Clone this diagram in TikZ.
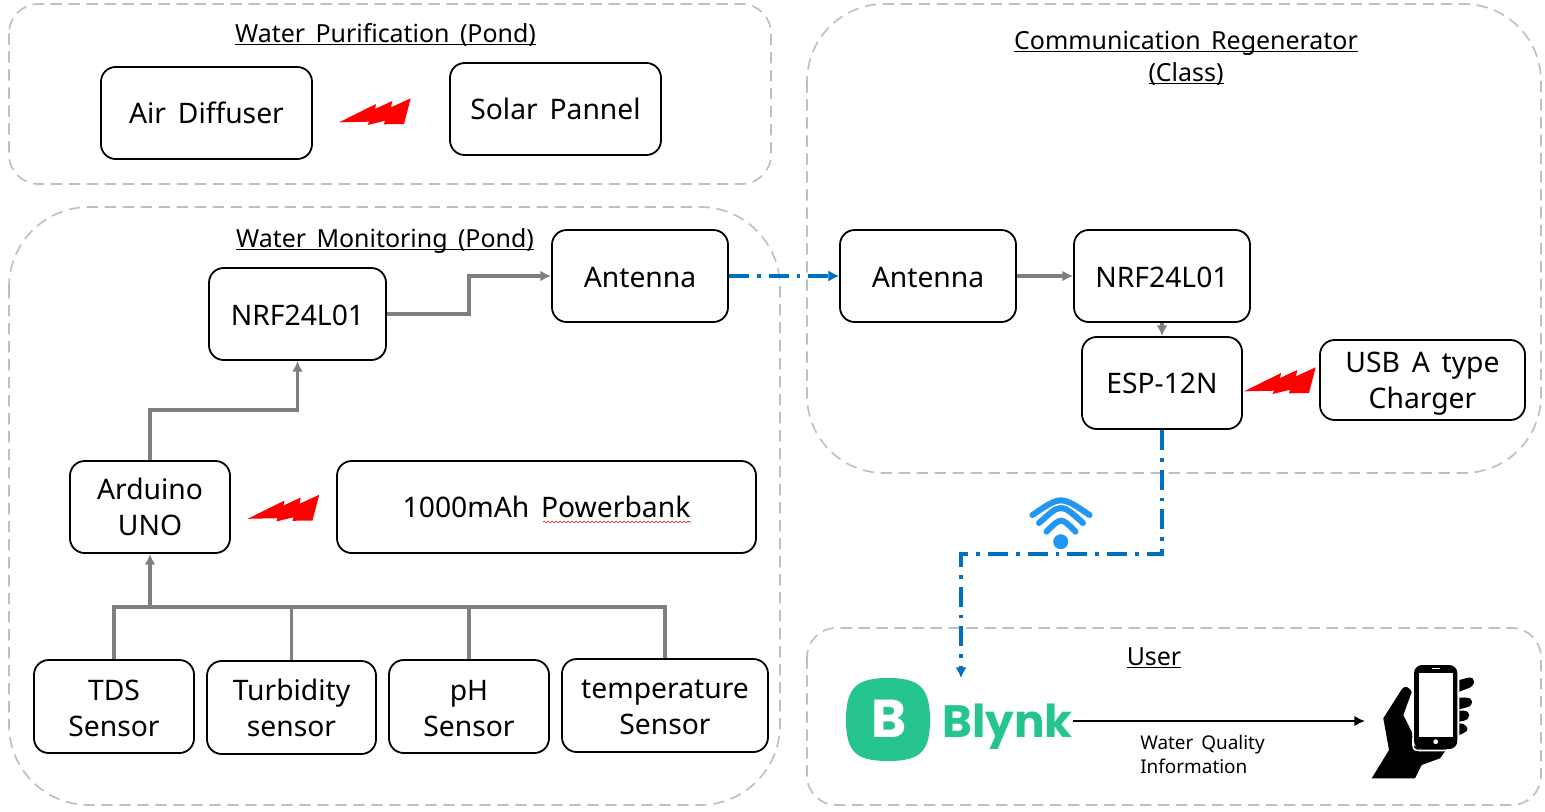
\documentclass[tikz,border=0pt]{standalone}
\usepackage{fontspec}
\setmainfont{Noto Sans}[WordSpace=1.6]
\newfontfamily\logofont{Poppins}
\usetikzlibrary{arrows.meta,decorations.pathmorphing}
\definecolor{regiongray}{HTML}{BFBFBF}
\definecolor{wiregray}{HTML}{7F7F7F}
\definecolor{linkblue}{HTML}{0070C0}
\definecolor{wifiblue}{HTML}{2196F3}
\definecolor{blynkgreen}{HTML}{27C58E}
\tikzset{
  bx/.style 2 args={draw=black,line width=1.35pt,rounded corners=11pt,fill=white,align=center,inner sep=0pt,
    minimum width=#1*0.75pt,minimum height=#2*0.75pt,font=\fontsize{21.2}{27}\selectfont},
  region/.style={draw=regiongray,line width=1.25pt,dash pattern=on 8.5pt off 5pt},
  titlelabel/.style={font=\fontsize{18.7}{24}\selectfont,anchor=base,inner sep=0pt},
  wire/.style={draw=wiregray,line width=2.4pt},
  wirearrow/.style={wire,-{Latex[length=8pt,width=8pt]}},
  busline/.style={draw=wiregray,line width=3pt},
  link/.style={draw=linkblue,line width=2.4pt,dash pattern=on 15pt off 6pt on 2.8pt off 6pt,-{Latex[length=8pt,width=8.5pt]}},
  boltfill/.style={fill=red,draw=none},
}
\newcommand{\boltat}[2]{\fill[boltfill,shift={(#1,#2)}] (339.3,122.3) -- (376,104) -- (375,109) -- (392.3,101) -- (391,107.3) -- (410.7,98.3) -- (404,124) -- (384,124.3) -- (385,120.7) -- (367.7,125) -- (369,121.7) -- cycle;}
\newcommand{\ul}[1]{\underline{\smash{#1}}}
\newcommand{\lift}[1]{\rule{0pt}{#1pt}}
\begin{document}
\begin{tikzpicture}[x=0.75pt,y=-0.75pt]
\useasboundingbox (0,0) rectangle (1545,811);
% regions
\draw[region,rounded corners=22pt] (9,4) rectangle (771,184);
\draw[region,rounded corners=60pt] (9,207) rectangle (780,805);
\draw[region,rounded corners=58pt] (807,4) rectangle (1541,473);
\draw[region,rounded corners=22pt] (807,628) rectangle (1541,805);
% titles
\node[titlelabel] (t1) at (385.5,42) {\ul{Water Purification (Pond)}};
\node[titlelabel] (t2) at (385,247) {\ul{Water Monitoring (Pond)}};
\node[titlelabel] (t3) at (1186,49) {\ul{Communication Regenerator}};
\node[titlelabel] (t3b) at (1186,81) {\ul{(Class)}};
\node[titlelabel] (t4) at (1154,665) {\ul{User}};
% boxes
\node[bx={211}{92}] (air) at (206.5,113) {Air Diffuser};
\node[bx={211}{92}] (solar) at (555.5,109) {Solar Pannel};
\node[bx={177}{92}] (nrfa) at (297.5,314) {\lift{17.5}NRF24L01};
\node[bx={176}{92}] (anta) at (640,276) {\lift{17.5}Antenna};
\node[bx={176}{92}] (antb) at (928,276) {\lift{17.5}Antenna};
\node[bx={176}{92}] (nrfb) at (1162,276) {\lift{17.5}NRF24L01};
\node[bx={160}{92}] (esp) at (1162,383) {ESP-12N};
\node[bx={205}{80}] (usb) at (1422.5,380) {\lift{21}USB A type\\Charger};
\node[bx={160}{92}] (ard) at (150,507) {Arduino\\UNO};
\node[bx={419}{92}] (pow) at (546.5,507) {1000mAh Powerbank};
\node[bx={160}{93}] (tds) at (114,706.5) {\lift{18}TDS\\Sensor};
\node[bx={169}{93}] (turb) at (291.5,707.5) {\lift{17}Turbidity\\sensor};
\node[bx={160}{93}] (ph) at (469,706.5) {\lift{18}pH\\Sensor};
\node[bx={206}{93}] (temp) at (665,705.5) {\lift{17}temperature\\Sensor};
% spell-check squiggle
\draw[red!80!black,line width=0.4pt,decorate,decoration={snake,amplitude=0.6pt,segment length=3pt}] (543,522) -- (691,522);
% bolts
\boltat{0}{0}
\boltat{-91.5}{396.5}
\boltat{905}{269}
% wiring
\coordinate (bus) at (150,607);
\coordinate (bend) at (150,410);
\draw[wire] (tds.north) |- (bus);
\draw[wire] (turb.north) |- (bus);
\draw[wire] (ph.north) |- (bus);
\draw[wire] (temp.north) |- (bus);
\draw[busline] (bus) -- (bus -| temp.north);
\draw[wirearrow] (bus) -- (ard.south);
\draw[wirearrow] (ard.north) -- (bend) -| (nrfa.south);
\coordinate (mid) at (469,295);
\draw[wirearrow] (nrfa.east) -| (mid) |- (anta.west);
\draw[wirearrow] (antb.east) -- (nrfb.west);
\draw[wirearrow] (nrfb.south) -- (esp.north);
\draw[link] (anta.east) -- (antb.west);
% Blynk logo
\fill[blynkgreen] (888,678) .. controls (920,678) and (930,688) .. (930,720) .. controls (930,752) and (920,761) .. (888,761) .. controls (856,761) and (846,752) .. (846,720) .. controls (846,688) and (856,678) .. (888,678) -- cycle;
\node[font=\logofont\bfseries\fontsize{40}{40}\selectfont,text=white,inner sep=0pt] (blynkb) at (889,719) {B};
\node[font=\logofont\bfseries\fontsize{34}{34}\selectfont,text=blynkgreen,inner sep=0pt,anchor=base west] (blynk) at (942,737) {Blynk};
\coordinate (blynkdrop) at (961,678);
\coordinate (wifibend) at (961,554);
\draw[link] (esp.south) |- (wifibend) -- (blynkdrop);
% wifi
\fill[wifiblue] (1060.7,541.7) circle[radius=7.5];
\draw[wifiblue,line width=4.5pt,line cap=round] (1032.5,515) .. controls (1061,495.5) .. (1089.5,515);
\draw[wifiblue,line width=4.5pt,line cap=round] (1039,523) .. controls (1061,503) .. (1083,523);
\draw[wifiblue,line width=4.5pt,line cap=round] (1046.5,531.7) .. controls (1061,517) .. (1075.5,531.7);
% phone
\coordinate (phonein) at (1365,721);
\draw[black,line width=2.2pt,-{Latex[length=8pt,width=8pt]}] (blynk.east |- phonein) -- (phonein);
\node[font=\fontsize{14.2}{18}\selectfont,align=left,anchor=west,inner sep=0pt] (wq) at (1140,754) {Water Quality\\Information};
% hand
\fill[black,line join=round] (1371.7,778.3) -- (1389,750) -- (1383.3,718.3) -- (1401.7,689.3) .. controls (1405,684) and (1410,688) .. (1411.7,692) -- (1403.3,715) -- (1411.7,731.7) -- (1413.3,745) -- (1420,749) -- (1446.7,749) -- (1440,758.3) -- (1421.7,765) -- (1415,778.3) -- cycle;
\fill[black,rounded corners=6pt] (1414,665) rectangle (1457.3,749);
\fill[white] (1419,672.7) rectangle (1452.7,737.3);
\fill[white] (1435.7,741.7) circle[radius=2.4];
\draw[white,line width=0.9pt] (1431.7,668.7) -- (1440,668.7);
\draw[white,line width=1.2pt] (1413,738) -- (1413,745) .. controls (1413,750) and (1416,750.5) .. (1420,750.5) -- (1450,750.5);
% fingers
\fill[black] (1459.3,680) -- (1468,677.7) .. controls (1476,676) and (1476,686) .. (1468,688.3) -- (1459.3,691.7) -- cycle;
\fill[black] (1459.3,697.7) -- (1466.7,697.7) .. controls (1474,698) and (1474,706) .. (1466.7,707.3) -- (1459.3,709.3) -- cycle;
\fill[black] (1459.3,710.7) -- (1464,710.7) .. controls (1471,711) and (1471,719) .. (1464,720.7) -- (1459.3,721.7) -- cycle;
\fill[black] (1459.3,723.3) -- (1463,724) .. controls (1469,727) and (1469,731) .. (1463,733.3) -- (1459.3,735) -- cycle;
\end{tikzpicture}
\end{document}
